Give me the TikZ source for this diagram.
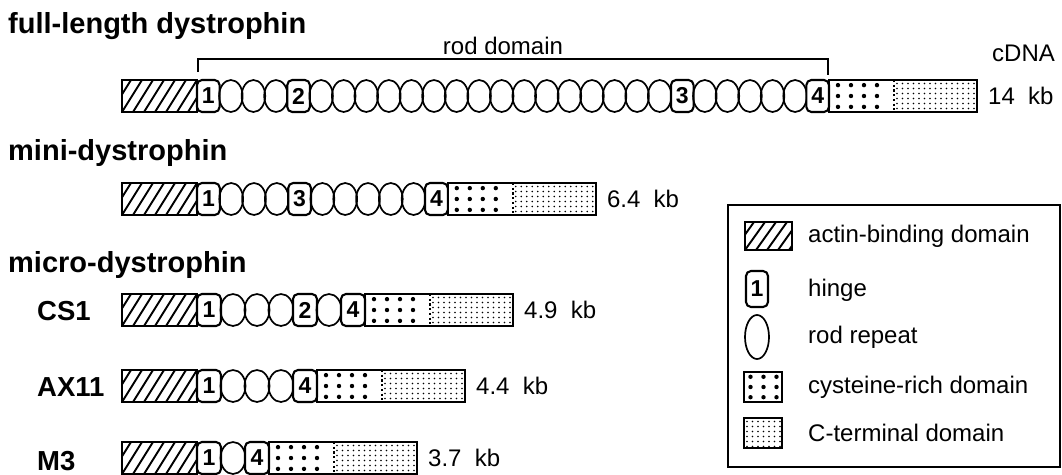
\documentclass[tikz,border=0pt]{standalone}
\usepackage{fontspec}
\setmainfont{Liberation Sans}
\tikzset{
  box/.style={draw, line width=2.1pt},
  rep/.style={draw, line width=1.7pt},
  hingebox/.style={draw, line width=2.1pt, rounded corners=5pt, fill=white},
  hnum/.style={font=\bfseries\fontsize{23}{23}\selectfont, inner sep=0pt},
  lbl/.style={font=\fontsize{24}{28}\selectfont, inner sep=0pt, anchor=base west},
  ttl/.style={font=\bfseries\fontsize{29}{32}\selectfont, inner sep=0pt, anchor=base west},
  rowlbl/.style={font=\bfseries\fontsize{27.5}{30}\selectfont, inner sep=0pt, anchor=base west},
  bracket/.style={draw, line width=1.7pt},
}
% hatched box: x0, ytop, x1, ybottom
\newcommand\hatchbox[4]{%
  \begin{scope}
    \clip (#1,#2) rectangle (#3,#4);
    \foreach \i in {-3,...,9}{\draw[line width=1.9pt] ({#1+\i*11},#4) -- ++(20,{#2-#4});}
  \end{scope}
  \draw[box] (#1,#2) rectangle (#3,#4);
}
% cysteine-rich dots
\newcommand\cysdots[4]{%
  \pgfmathsetmacro\cyh{#4-#2}
  \foreach \k in {0,...,5}{%
    \pgfmathsetmacro\cxx{#1+9+13*\k}
    \pgfmathtruncatemacro\ok{\cxx<#3-5}
    \ifnum\ok=1
      \foreach \f in {0.16,0.5,0.84}{\fill ({\cxx},{#2+\f*\cyh}) circle (2.2pt);}
    \fi
  }
}
% C-terminal dots
\newcommand\ctdots[4]{%
  \begin{scope}
    \clip (#1,#2) rectangle (#3,#4);
    \foreach \a in {0,...,16}{\foreach \b in {0,...,7}{\fill ({#1+3+\a*5.5},{#2+3.5+\b*5}) circle (0.85pt);}}
  \end{scope}
}
% protein row: #1 y centre, #2 unit, #3 list, #4 kb text, #5 name
\newcommand\protrow[5]{%
  \pgfmathsetmacro\yt{#1-16}
  \pgfmathsetmacro\yb{#1+16}
  \hatchbox{122}{\yt}{197}{\yb}
  \xdef\curx{197}
  \foreach \t in {#3}{%
    \pgfmathsetmacro\nx{\curx+#2}
    \pgfmathsetmacro\mx{\curx+#2/2}
    \pgfmathsetmacro\rx{#2/2+0.5}
    \ifnum\t=0
      \draw[rep] (\mx,#1) ellipse (\rx pt and 16pt);
    \else
      \draw[hingebox] (\curx,\yt) rectangle (\nx,\yb);
      \node[hnum] at (\mx,#1) {\t};
    \fi
    \xdef\curx{\nx}
  }
  \pgfmathsetmacro\cA{\curx}
  \pgfmathsetmacro\cB{\curx+65}
  \pgfmathsetmacro\cC{\curx+148}
  \cysdots{\cA}{\yt}{\cB}{\yb}
  \ctdots{\cB}{\yt}{\cC}{\yb}
  \draw[box] (\cB,\yt) -- (\cA,\yt) -- (\cA,\yb) -- (\cB,\yb);
  \draw[box] (\cB,\yt) -- (\cC,\yt) -- (\cC,\yb) -- (\cB,\yb);
  \draw[line width=2pt, dash pattern=on 2.2pt off 2.5pt] (\cB,\yt) -- (\cB,\yb);
  \node[lbl] (#5) at ({\cC+11},{#1+8.5}) {#4};
}
\begin{document}
\begin{tikzpicture}[x=1pt,y=-1pt]
\useasboundingbox (0,0) rectangle (1062,474);

% titles
\node[ttl] (t1) at (8,33) {full-length dystrophin};
\node[ttl] (t2) at (8,160) {mini-dystrophin};
\node[ttl] (t3) at (8,272) {micro-dystrophin};
\node[rowlbl] (cs1) at (37,320) {CS1};
\node[rowlbl] (ax11) at (37,396) {AX11};
\node[rowlbl] (m3) at (37,470) {M3};

% rod domain bracket
\coordinate (bl) at (198,72);
\coordinate (br) at (828,75);
\draw[bracket] (bl) -- (198,59) -- (828,59) -- (br);
\node[lbl, anchor=base] (rod) at (503,54) {rod domain};
\node[lbl] (cdna) at (992,61) {cDNA};

% rows
\protrow{96}{22.57}{1,0,0,0,2,0,0,0,0,0,0,0,0,0,0,0,0,0,0,0,0,3,0,0,0,0,0,4}{14\hspace{0.55em}kb}{kbfull}
\protrow{199}{22.8}{1,0,0,0,3,0,0,0,0,0,4}{6.4\hspace{0.55em}kb}{kbmini}
\protrow{310}{24}{1,0,0,0,2,0,4}{4.9\hspace{0.55em}kb}{kbcs}
\protrow{386}{24}{1,0,0,0,4}{4.4\hspace{0.55em}kb}{kbax}
\protrow{458}{24}{1,0,4}{3.7\hspace{0.55em}kb}{kbm}

% legend
\draw[box] (728,205) rectangle (1060,467);
\hatchbox{745}{222}{792}{250}
\draw[hingebox] (746,271) rectangle (768,307);
\node[hnum] (lgh) at (757,289) {1};
\draw[rep] (757,337) ellipse (12pt and 22pt);
\cysdots{741.5}{372}{782}{402}
\draw[box] (744,372) rectangle (782,402);
\ctdots{744}{418}{782}{448}
\draw[box] (744,418) rectangle (782,448);
\node[lbl, anchor=west] (la) at (808,236) {actin-binding domain};
\node[lbl, anchor=west] (lb) at (808,290) {hinge};
\node[lbl, anchor=west] (lc) at (808,337) {rod repeat};
\node[lbl, anchor=west] (ld) at (808,387) {cysteine-rich domain};
\node[lbl, anchor=west] (le) at (808,433) {C-terminal domain};
\end{tikzpicture}
\end{document}
